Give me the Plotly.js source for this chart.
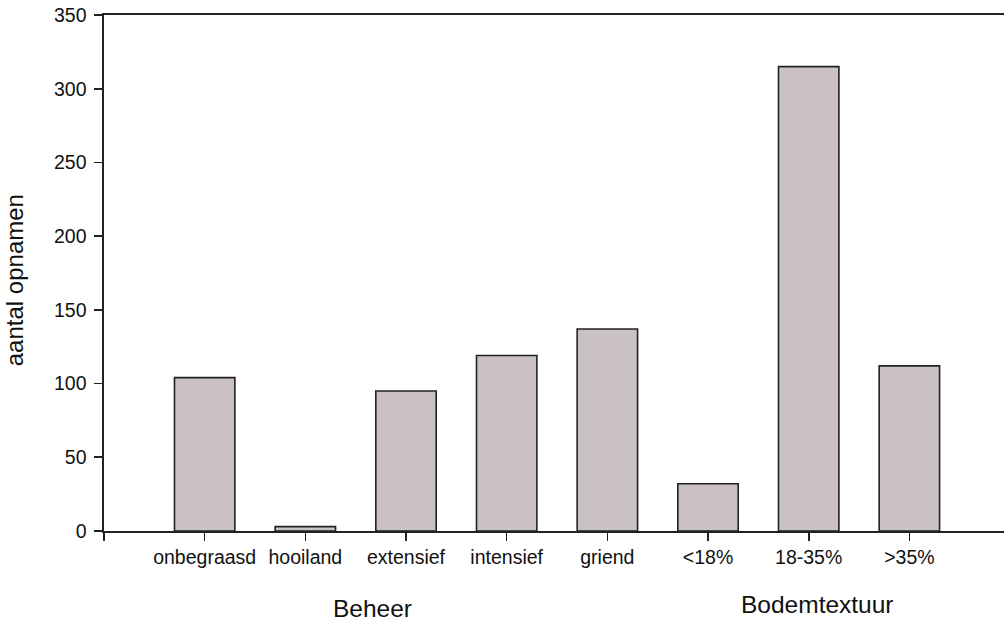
<!DOCTYPE html>
<html>
<head>
<meta charset="utf-8">
<script src="https://cdn.plot.ly/plotly-3.0.1.min.js"></script>
<style>html,body{margin:0;padding:0;background:#fff;}#chart{width:1004px;height:628px;}</style>
</head>
<body>
<div id="chart"></div>
<script>
const categories = ["onbegraasd", "hooiland", "extensief", "intensief", "griend", "<18%", "18-35%", ">35%"];
const counts = [104, 3, 95, 119, 137, 32, 315, 112];
const yTicks = [0, 50, 100, 150, 200, 250, 300, 350];
const groupLabels = ["Beheer", "Bodemtextuur"];
const yTitle = "aantal opnamen";

const FONT = "Liberation Sans, Arial, Helvetica, sans-serif";
const xIdx = categories.map((c, i) => i);

const trace = {
  type: "bar",
  x: xIdx,
  y: counts,
  width: 0.6,
  marker: { color: "#c9c1c2", line: { color: "#222", width: 1.6 } },
  hoverinfo: "skip"
};

const layout = {
  width: 1004,
  height: 628,
  margin: { l: 104, r: 0, t: 15, b: 97 },
  paper_bgcolor: "#fff",
  plot_bgcolor: "#fff",
  showlegend: false,
  font: { family: FONT, color: "#111" },
  xaxis: {
    type: "linear",
    range: [-1, 7.94],
    tickvals: [-1].concat(xIdx),
    ticktext: [""].concat(categories),
    ticks: "outside",
    ticklen: 8,
    tickwidth: 1.6,
    tickcolor: "#222",
    showline: true,
    linecolor: "#222",
    linewidth: 1.6,
    mirror: true,
    showgrid: false,
    zeroline: false,
    tickfont: { family: FONT, size: 19.5, color: "#111" }
  },
  yaxis: {
    range: [0, 350],
    tickvals: yTicks,
    ticktext: yTicks.map(String),
    ticks: "outside",
    ticklen: 8,
    tickwidth: 1.6,
    tickcolor: "#222",
    showline: true,
    linecolor: "#222",
    linewidth: 1.6,
    showgrid: false,
    zeroline: false,
    ticklabelstandoff: 4,
    tickfont: { family: FONT, size: 19.5, color: "#111" }
  },
  annotations: [
    { text: groupLabels[0], xref: "paper", yref: "paper", x: 0.298, y: -0.151, xanchor: "center", yanchor: "middle", showarrow: false, font: { family: FONT, size: 24.5, color: "#111" } },
    { text: groupLabels[1], xref: "paper", yref: "paper", x: 0.793, y: -0.1415, xanchor: "center", yanchor: "middle", showarrow: false, font: { family: FONT, size: 24.5, color: "#111" } },
    { text: yTitle, xref: "paper", yref: "paper", x: -0.1, y: 0.486, xanchor: "center", yanchor: "middle", textangle: -90, showarrow: false, font: { family: FONT, size: 24, color: "#111" } }
  ]
};

Plotly.newPlot("chart", [trace], layout, { displayModeBar: false, staticPlot: true });
</script>
</body>
</html>
